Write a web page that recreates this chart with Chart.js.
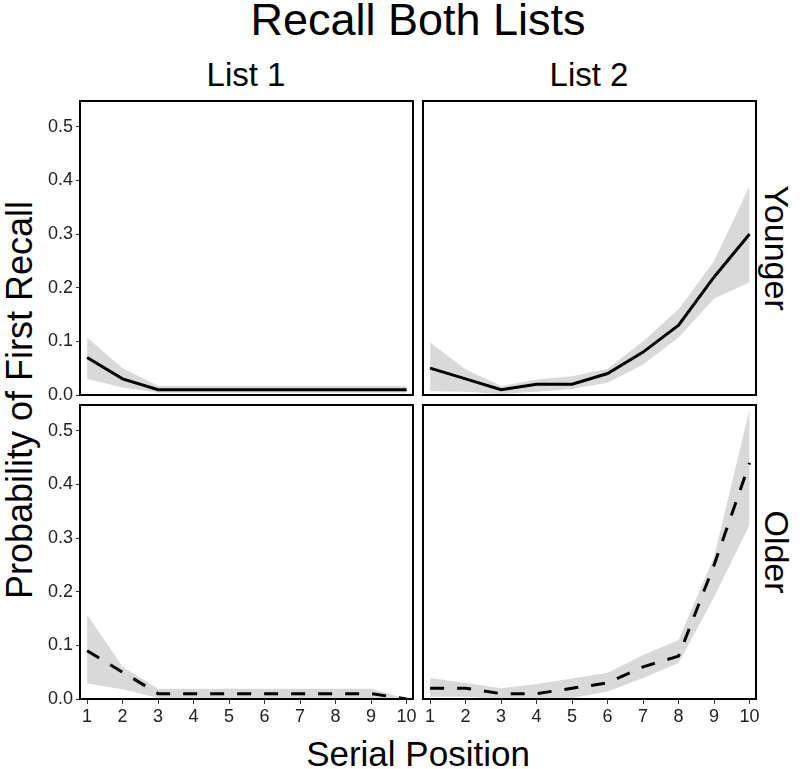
<!DOCTYPE html>
<html>
<head>
<meta charset="utf-8">
<script src="https://cdn.jsdelivr.net/npm/chart.js@4.4.0/dist/chart.umd.min.js"></script>
<style>
  body { margin: 0; background: #fff; }
  #wrap { position: relative; width: 800px; height: 769px; overflow: hidden; font-family: "Liberation Sans", Arial, sans-serif; }
  #wrap canvas { position: absolute; }
  .lbl { position: absolute; color: #000; white-space: nowrap; line-height: 1; }
</style>
</head>
<body>
<div id="wrap">
  <div class="lbl" style="left:418px; top:19px; font-size:45px; transform:translate(-50%,-50%);">Recall Both Lists</div>
  <div class="lbl" style="left:246px; top:74px; font-size:33px; transform:translate(-50%,-50%);">List 1</div>
  <div class="lbl" style="left:589px; top:74px; font-size:33px; transform:translate(-50%,-50%);">List 2</div>
  <div class="lbl" style="left:20px; top:400px; font-size:36px; transform:translate(-50%,-50%) rotate(-90deg);">Probability of First Recall</div>
  <div class="lbl" style="left:777px; top:248px; font-size:34px; transform:translate(-50%,-50%) rotate(90deg);">Younger</div>
  <div class="lbl" style="left:777px; top:552px; font-size:34px; transform:translate(-50%,-50%) rotate(90deg);">Older</div>
  <div class="lbl" style="left:418px; top:753px; font-size:35px; transform:translate(-50%,-50%);">Serial Position</div>

  <canvas id="youngL1"></canvas>
  <canvas id="youngL2"></canvas>
  <canvas id="oldL1"></canvas>
  <canvas id="oldL2"></canvas>
</div>

<script>
// serial positions and y ticks
const serialPos = [1, 2, 3, 4, 5, 6, 7, 8, 9, 10];
const yTicks = [0, 0.1, 0.2, 0.3, 0.4, 0.5];

// Younger, List 1
const youngL1Mean  = [0.07, 0.03, 0.01, 0.01, 0.01, 0.01, 0.01, 0.01, 0.01, 0.01];
const youngL1Upper = [0.107, 0.05, 0.017, 0.017, 0.017, 0.017, 0.017, 0.017, 0.017, 0.017];
const youngL1Lower = [0.03, 0.014, 0.004, 0.004, 0.004, 0.004, 0.004, 0.004, 0.004, 0.004];

// Younger, List 2
const youngL2Mean  = [0.05, 0.03, 0.01, 0.02, 0.02, 0.04, 0.08, 0.13, 0.22, 0.30];
const youngL2Upper = [0.098, 0.048, 0.017, 0.029, 0.035, 0.049, 0.10, 0.16, 0.25, 0.39];
const youngL2Lower = [0.007, 0.006, 0.002, 0.006, 0.011, 0.023, 0.057, 0.107, 0.18, 0.21];

// Older, List 1
const oldL1Mean  = [0.09, 0.05, 0.01, 0.01, 0.01, 0.01, 0.01, 0.01, 0.01, 0.0];
const oldL1Upper = [0.157, 0.06, 0.019, 0.019, 0.019, 0.019, 0.019, 0.019, 0.019, 0.0];
const oldL1Lower = [0.029, 0.018, 0.002, 0.002, 0.002, 0.002, 0.002, 0.002, 0.002, 0.0];

// Older, List 2
const oldL2Mean  = [0.02, 0.02, 0.01, 0.01, 0.02, 0.03, 0.06, 0.08, 0.25, 0.44];
const oldL2Upper = [0.039, 0.03, 0.02, 0.028, 0.038, 0.049, 0.082, 0.11, 0.265, 0.54];
const oldL2Lower = [0.004, 0.004, 0.0, 0.0, 0.002, 0.014, 0.039, 0.067, 0.19, 0.325];

const fontFam = '"Liberation Sans", Arial, sans-serif';
const ribbonColor = 'rgb(217,217,217)';

// black box around each panel
const frame = {
    id: 'frame',
    afterDraw(chart) {
        const a = chart.chartArea;
        const ctx = chart.ctx;
        ctx.save();
        ctx.strokeStyle = '#000';
        ctx.lineWidth = 2;
        ctx.strokeRect(a.left, a.top, a.right - a.left, a.bottom - a.top);
        ctx.restore();
    }
};

function pts(arr) {
    return serialPos.map((x, i) => ({ x: x, y: arr[i] }));
}

function panel(id, left, top, mean, upper, lower, dashed, showX, showY) {
    const padL = showY ? 0 : 10;
    const yW = 50;
    const xH = 32;
    const cv = document.getElementById(id);
    const w = (showY ? yW : padL) + 333 + 12;
    const h = 6 + 294 + (showX ? xH : 6);
    cv.width = w;
    cv.height = h;
    cv.style.left = (left - (showY ? yW : padL)) + 'px';
    cv.style.top = (top - 6) + 'px';

    new Chart(cv, {
        type: 'line',
        data: {
            // mean first so it is drawn on top of the ribbon
            datasets: [
                { data: pts(mean), borderColor: '#000', borderWidth: 3, borderDash: dashed ? [14, 13] : [], pointRadius: 0, fill: false, tension: 0 },
                { data: pts(upper), borderColor: 'rgba(0,0,0,0)', borderWidth: 0, pointRadius: 0, backgroundColor: ribbonColor, fill: '+1' },
                { data: pts(lower), borderColor: 'rgba(0,0,0,0)', borderWidth: 0, pointRadius: 0, fill: false }
            ]
        },
        options: {
            responsive: false,
            animation: false,
            layout: { padding: { left: padL, right: 12, top: 6, bottom: showX ? 0 : 6 } },
            plugins: { legend: { display: false }, tooltip: { enabled: false } },
            scales: {
                x: {
                    type: 'linear',
                    min: 0.8,
                    max: 10.18,
                    display: showX,
                    afterBuildTicks: s => { s.ticks = serialPos.map(v => ({ value: v })); },
                    afterFit: s => {
                        if (showX) s.height = xH;
                        s.paddingLeft = 0;
                        s.paddingRight = 0;
                    },
                    border: { display: false },
                    grid: { drawOnChartArea: false, tickLength: 5, color: '#333' },
                    ticks: { font: { family: fontFam, size: 18 }, color: '#222', padding: 2, maxRotation: 0, autoSkip: false }
                },
                y: {
                    min: 0,
                    max: 0.548,
                    display: showY,
                    afterBuildTicks: s => { s.ticks = yTicks.map(v => ({ value: v })); },
                    afterFit: s => {
                        if (showY) s.width = yW;
                        s.paddingTop = 0;
                        s.paddingBottom = 0;
                    },
                    border: { display: false },
                    grid: { drawOnChartArea: false, tickLength: 4, color: '#333' },
                    ticks: { font: { family: fontFam, size: 18 }, color: '#222', padding: 3, callback: v => v.toFixed(1) }
                }
            }
        },
        plugins: [frame]
    });
}

panel('youngL1', 80, 101, youngL1Mean, youngL1Upper, youngL1Lower, false, false, true);
panel('youngL2', 423, 101, youngL2Mean, youngL2Upper, youngL2Lower, false, false, false);
panel('oldL1', 80, 405, oldL1Mean, oldL1Upper, oldL1Lower, true, true, true);
panel('oldL2', 423, 405, oldL2Mean, oldL2Upper, oldL2Lower, true, true, false);
</script>
</body>
</html>
